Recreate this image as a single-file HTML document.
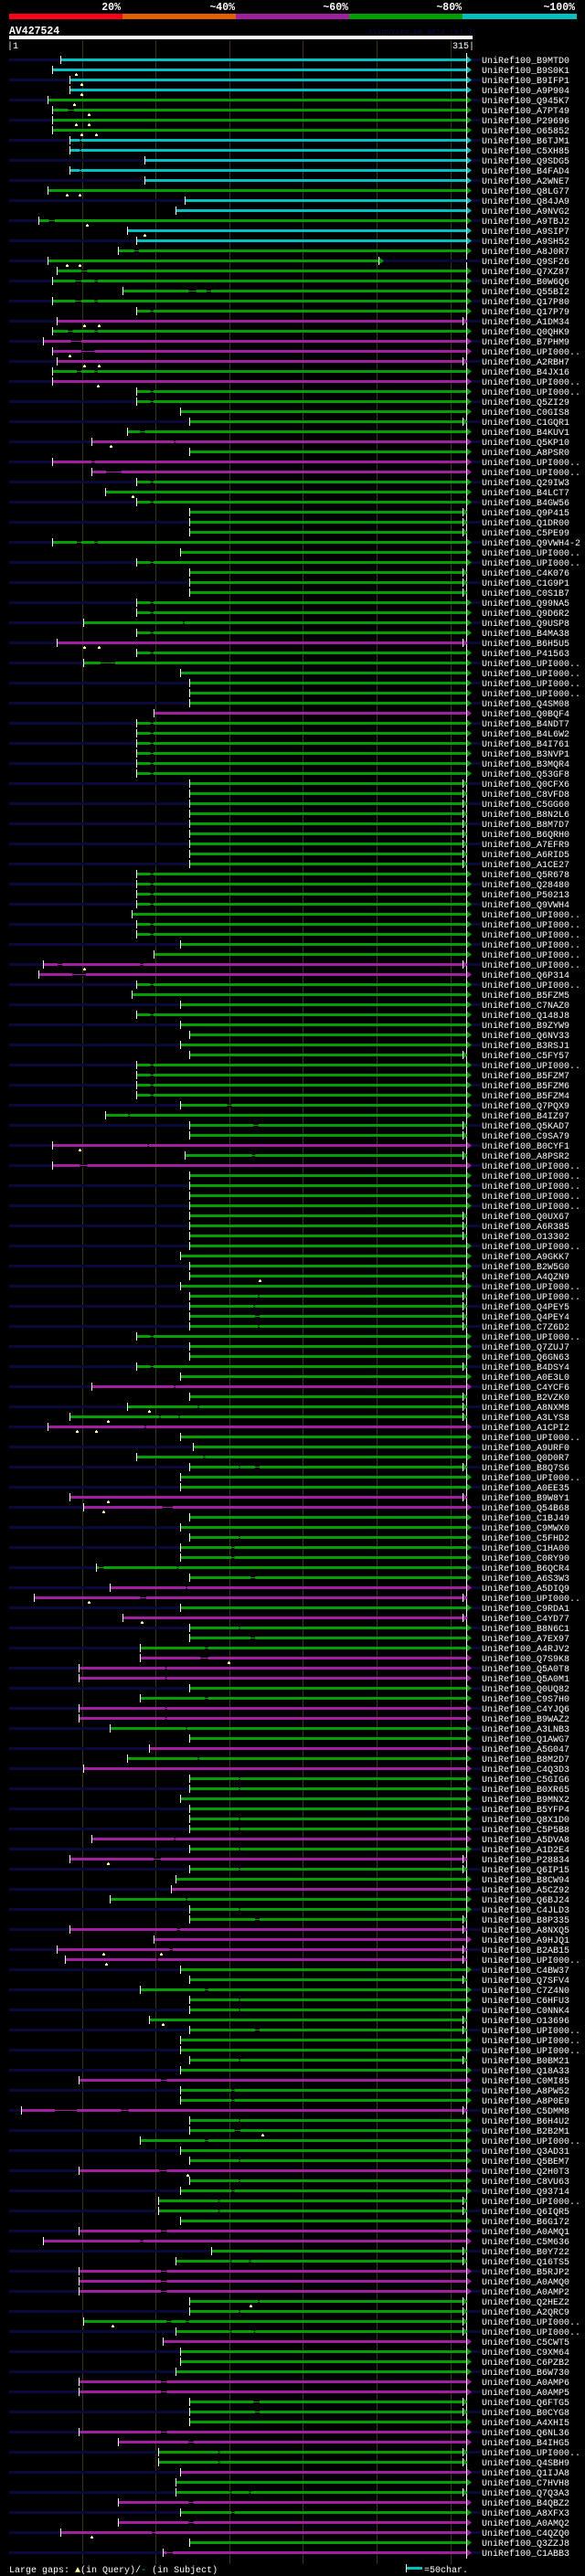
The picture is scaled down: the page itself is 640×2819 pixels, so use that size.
<!DOCTYPE html>
<html><head><meta charset="utf-8"><style>
html,body{margin:0;padding:0;background:#000;}
svg{display:block;}
text{font-family:"Liberation Mono",monospace;}
</style></head><body>
<svg id="chart" width="640" height="2819" viewBox="0 0 640 2819" xmlns="http://www.w3.org/2000/svg">
<rect x="0" y="0" width="640" height="2819" fill="#000"/>
<g>
<rect x="10" y="15" width="124" height="6" fill="#ff0018"/>
<rect x="134" y="15" width="124" height="6" fill="#e06000"/>
<rect x="258" y="15" width="124" height="6" fill="#a020a0"/>
<rect x="382" y="15" width="124" height="6" fill="#00a000"/>
<rect x="506" y="15" width="125" height="6" fill="#00c0c0"/>
<text x="132" y="11" fill="#fff" font-size="11.5" font-weight="bold" text-anchor="end">20%</text>
<text x="257" y="11" fill="#fff" font-size="11.5" font-weight="bold" text-anchor="end">~40%</text>
<text x="381" y="11" fill="#fff" font-size="11.5" font-weight="bold" text-anchor="end">~60%</text>
<text x="505" y="11" fill="#fff" font-size="11.5" font-weight="bold" text-anchor="end">~80%</text>
<text x="629" y="11" fill="#fff" font-size="11.5" font-weight="bold" text-anchor="end">~100%</text>
</g>
<text x="10" y="37" fill="#fff" font-size="11.5" font-weight="bold">AV427524</text>
<text x="517" y="37" fill="#0a0a44" font-size="8.3" text-anchor="end">AlignView.pm Beta rel.7</text>
<rect x="10" y="39" width="507" height="4" fill="#fff"/>
<text x="8" y="53" fill="#fff" font-size="10">|1</text>
<text x="519" y="53" fill="#fff" font-size="10" text-anchor="end">315|</text>
<g id="grid"></g>
<g id="rows"></g>
<g>
<text x="10" y="2815" fill="#fff" font-size="10">Large gaps: <tspan fill="#ffff80">▲</tspan>(in Query)/<tspan fill="#00c0c0">-</tspan> (in Subject)</text>
<rect x="445" y="2809" width="17" height="3" fill="#00c0c0"/>
<rect x="444" y="2806" width="1" height="9" fill="#fff"/>
<text x="464" y="2815" fill="#fff" font-size="10">=50char.</text>
</g>
</svg>
<script>
const names=["B9MTD0","B9S0K1","B9IFP1","A9P904","Q945K7","A7PT49","P29696","O65852","B6TJM1","C5XH85",
"Q9SDG5","B4FAD4","A2WNE7","Q8LG77","Q84JA9","A9NVG2","A9TBJ2","A9SIP7","A9SH52","A8J0R7",
"Q9SF26","Q7XZ87","B0W6Q6","Q55BI2","Q17P80","Q17P79","A1DM34","Q0QHK9","B7PHM9","UPI000..",
"A2RBH7","B4JX16","UPI000..","UPI000..","Q5ZI29","C0GIS8","C1GQR1","B4KUV1","Q5KP10","A8PSR0",
"UPI000..","UPI000..","Q29IW3","B4LCT7","B4GW56","Q9P415","Q1DR00","C5PE99","Q9VWH4-2","UPI000..",
"UPI000..","C4K076","C1G9P1","C0S1B7","Q99NA5","Q9D6R2","Q9USP8","B4MA38","B6H5U5","P41563",
"UPI000..","UPI000..","UPI000..","UPI000..","Q4SM08","Q0BQF4","B4NDT7","B4L6W2","B4I761","B3NVP1",
"B3MQR4","Q53GF8","Q0CFX6","C8VFD8","C5GG60","B8N2L6","B8M7D7","B6QRH0","A7EFR9","A6RID5",
"A1CE27","Q5R678","Q28480","P50213","Q9VWH4","UPI000..","UPI000..","UPI000..","UPI000..","UPI000..",
"UPI000..","Q6P314","UPI000..","B5FZM5","C7NAZ0","Q148J8","B9ZYW9","Q6NV33","B3RSJ1","C5FY57",
"UPI000..","B5FZM7","B5FZM6","B5FZM4","Q7PQX9","B4IZ97","Q5KAD7","C9SA79","B0CYF1","A8PSR2",
"UPI000..","UPI000..","UPI000..","UPI000..","UPI000..","Q0UX67","A6R385","O13302","UPI000..","A9GKK7",
"B2W5G0","A4QZN9","UPI000..","UPI000..","Q4PEY5","Q4PEY4","C7Z6D2","UPI000..","Q7ZUJ7","Q6GN63",
"B4DSY4","A0E3L0","C4YCF6","B2VZK0","A8NXM8","A3LYS8","A1CPI2","UPI000..","A9URF0","Q0D0R7",
"B8Q7S6","UPI000..","A0EE35","B9W8Y1","Q54B68","C1BJ49","C9MWX0","C5FHD2","C1HA00","C0RY90",
"B6QCR4","A6S3W3","A5DIQ9","UPI000..","C9RDA1","C4YD77","B8N6C1","A7EX97","A4RJV2","Q7S9K8",
"Q5A0T8","Q5A0M1","Q0UQ82","C9S7H0","C4YJQ6","B9WAZ2","A3LNB3","Q1AWG7","A5G047","B8M2D7",
"C4Q3D3","C5GIG6","B0XR65","B9MNX2","B5YFP4","Q8X1D0","C5P5B8","A5DVA8","A1D2E4","P28834",
"Q6IP15","B8CW94","A5CZ92","Q6BJ24","C4JLD3","B8P335","A8NXQ5","A9HJQ1","B2AB15","UPI000..",
"C4BW37","Q7SFV4","C7Z4N0","C6HFU3","C0NNK4","O13696","UPI000..","UPI000..","UPI000..","B0BM21",
"Q18A33","C0MI85","A8PW52","A8P0E9","C5DMM8","B6H4U2","B2B2M1","UPI000..","Q3AD31","Q5BEM7",
"Q2H0T3","C8VU63","Q93714","UPI000..","Q6IQR5","B6G172","A0AMQ1","C5M636","B0Y722","Q16TS5",
"B5RJP2","A0AMQ0","A0AMP2","Q2HEZ2","A2QRC9","UPI000..","UPI000..","C5CWT5","C9XM64","C6PZB2",
"B6W730","A0AMP6","A0AMP5","Q6FTG5","B0CYG8","A4XHI5","Q6NL36","B4IHG5","UPI000..","Q4SBH9",
"Q1IJA8","C7HVH8","Q7Q3A3","B4QBZ2","A8XFX3","A0AMQ2","C4QZQ0","Q3ZZJ8","C1ABB3"];
const starts=[36,30,42,42,27,30,30,30,42,42, 93,42,93,27,120,114,21,81,87,75, 27,33,30,78,30,87,33,30,24,30,
33,30,30,87,87,117,123,81,57,123, 30,57,87,66,87,123,123,123,30,117, 87,123,123,123,87,87,51,87,33,87,
51,117,123,123,123,99,87,87,87,87, 87,87,123,123,123,123,123,123,123,123, 123,87,87,87,87,84,87,87,117,99,
24,21,87,84,117,87,117,123,117,123, 87,87,87,87,117,66,123,123,30,120, 30,123,123,123,123,123,123,123,123,117,
123,123,117,123,123,123,123,87,123,123, 87,117,57,123,81,42,27,117,126,87, 123,117,117,42,51,123,117,123,117,117,
60,123,69,18,117,78,123,123,90,90, 48,48,123,90,48,48,69,123,96,81, 51,123,123,117,123,123,123,57,123,42,
123,114,111,69,123,123,42,99,33,39, 117,123,90,123,123,96,123,117,117,123, 117,48,117,117,9,123,123,90,117,123,
48,123,117,102,102,117,48,24,138,114, 48,48,48,123,123,51,114,105,117,117, 114,48,48,123,123,123,48,75,102,102,
117,114,114,75,117,75,36,123,105];
const ends=[311,311,311,311,311,311,311,311,311,311, 311,311,311,311,311,311,311,311,311,311,
252,311,311,311,311,311,309,311,311,311, 309,311,311,311,311,311,309,311,311,311,
311,311,311,311,311,309,309,309,311,311, 311,309,309,309,311,311,311,311,309,311,
311,311,311,311,311,311,311,311,311,311, 311,311,309,309,309,309,309,309,309,309,
309,311,311,311,311,311,311,311,311,311, 309,311,311,311,311,311,311,311,311,309,
311,311,311,311,311,311,309,309,311,309, 311,311,311,311,311,309,309,309,311,311,
311,309,311,309,309,309,309,311,311,311, 309,311,311,309,309,309,311,311,311,311,
309,311,311,309,311,311,311,311,311,311, 311,311,311,309,311,309,311,311,311,311,
311,311,311,311,311,311,311,311,311,311, 311,311,311,311,311,311,311,311,311,309,
309,311,311,311,311,309,309,311,309,309, 311,309,311,311,311,309,309,311,311,309,
311,311,311,311,309,311,311,311,311,311, 311,311,311,309,309,311,311,311,309,309,
311,311,311,309,309,309,309,311,311,311, 311,311,311,309,309,311,311,311,309,309,
311,311,309,311,311,311,311,311,311];
const identity="ccccggggcc"+"cccgccgccg"+"ggggggmgmm"+"mgmgggggmg"+"mmgggggggg"+"ggggggggmg"+"gggggmgggg"+"gggggggggg"+"gggggggggg"+"mmgggggggg"+
"ggggggggmg"+"mggggggggg"+"gggggggggg"+"ggmgggmggg"+"gggmmggggg"+"ggmmgmgggm"+"mmggmmggmg"+"mggggggmgm"+"ggmgggmmmm"+"gggggggggg"+
"gmggmggggg"+"mgggggmmgg"+"mmmggggmgg"+"gmmgggmmgg"+"mggmgmmgm";
const gapList=[[6,41,45],[9,49,50],[10,49,50],[12,49,50],[17,28,32],[20,86,89],[22,50,54],[23,46,50],[23,59,61],[24,123,128],[24,135,138],[25,46,50],[25,59,61],[26,97,99],[28,41,44],[28,59,61],[29,43,50],[30,50,59],[32,47,50],[32,59,61],[34,97,99],[35,97,99],[38,90,93],[39,113,114],[41,57,59],[42,67,77],[43,97,99],[45,97,99],[49,47,50],[49,59,61],[51,97,99],[55,97,99],[56,97,99],[57,119,120],[58,97,99],[60,97,99],[61,63,73],
[67,97,99],[68,97,99],[69,97,99],[70,97,99],[71,97,99],[72,97,99],[82,97,99],[83,97,99],[84,97,99],[85,97,99],[87,97,99],[88,97,99],
[91,34,37],[91,90,92],[92,44,53],[93,97,99],[96,97,99],[101,97,99],[102,97,99],[103,97,99],[104,97,99],[105,149,152],[106,82,83],[107,167,170],[109,95,96],[110,166,168],[111,49,54],[124,170,171],[125,167,168],[126,168,171],[127,170,171],[128,97,99],[131,97,99],[133,113,114],[135,129,130],[136,103,104],[136,116,117],[137,93,94],[140,133,134],[141,157,158],[141,168,171],[145,105,112],[148,157,158],[149,152,154],[150,152,154],[151,62,65],[151,115,116],[152,165,168],[153,121,122],[154,90,94],[157,157,158],[158,165,168],[159,134,136],[160,131,136],[161,107,108],[162,107,108],[164,134,136],[165,107,108],[166,107,108],[167,121,122],[170,129,130],[172,157,158],[173,157,158],[176,157,158],[177,157,158],[178,113,114],[179,157,158],[180,99,104],[181,157,158],[184,121,122],[185,157,158],[186,168,171],[187,115,117],[189,110,112],[190,101,102],[193,134,136],[194,157,158],[195,157,158],[197,168,171],[200,157,158],[202,104,108],[203,152,154],[204,152,154],[205,32,47],[205,77,82],[206,157,158],[207,154,158],[208,134,136],[210,157,158],[211,103,108],[212,157,158],[213,152,154],[214,143,144],[215,143,144],[217,104,108],[218,90,92],[220,151,152],[220,164,165],[221,104,108],[222,104,108],[223,104,108],[224,170,171],[225,157,158],[226,108,111],[226,121,123],[227,151,152],[227,167,168],[232,104,108],[233,104,108],[234,167,171],[235,168,171],[237,104,108],[238,123,126],[239,143,144],[240,143,144],[243,151,152],[243,164,165],[244,123,126],[245,152,154],[246,123,126],[247,98,100],[249,108,112]];
const marks=[[2,46],[3,50],[4,50],[5,45],[6,55],[7,46],[7,55],[8,50],[8,60],[14,40],[14,49],[17,54],[18,93],[21,40],[21,49],[27,52],[27,62],[30,42],[31,52],[31,62],[33,61],[39,70],[44,85],[59,52],[59,62],[91,52],[109,49],[122,171],[135,96],[136,68],[137,47],[137,60],[144,68],[145,65],[154,55],[156,91],[160,150],[180,68],[189,65],[189,104],[190,67],[196,105],[207,173],[211,122],[224,165],[226,71],[247,57]];
const gridTicks=[50,100,150,200,250,300];

const NS="http://www.w3.org/2000/svg";
const colorMap={c:"#00c0c0",g:"#00a000",m:"#a020a0"};
function xScale(q){return 10+(q-1)*1.6115;}
function yScale(i){return 65.3+i*11;}
function mk(tag,attrs,parent){const e=document.createElementNS(NS,tag);for(const k in attrs)e.setAttribute(k,attrs[k]);parent.appendChild(e);return e;}
const grid=document.getElementById('grid');
gridTicks.forEach(t=>{
  const l=mk('rect',{x:Math.round(xScale(t+0.5)),y:44,width:1,height:2762,fill:'#3a3400'},grid);
  
  
});
const rowsG=document.getElementById('rows');
const endLine=mk('rect',{x:510,y:58,width:1,height:2742,fill:'#fff'},rowsG);


names.forEach((nm,i)=>{
  const y=Math.round(yScale(i));
  const col=colorMap[identity[i]];
  const g=mk('g',{},rowsG);
  
  
  const xs=Math.round(xScale(starts[i])), xe=Math.round(xScale(ends[i]));
  if(i%2===0){
    mk('rect',{x:10,y:y-1,width:xs-10,height:3,fill:'#0a0a38'},g);
    mk('rect',{x:xe+5,y:y-1,width:526-xe-5,height:3,fill:'#0a0a38'},g);
  }
  const bar=mk('rect',{x:xs,y:y-1,width:xe-xs,height:3,fill:col},g);
  
  
  gapList.filter(gp=>gp[0]===i+1).forEach(gp=>{
    const a=xScale(gp[1]),b=xScale(gp[2]);
    mk('rect',{x:a,y:y-1,width:b-a,height:3,fill:'#000'},g);
    const gl=mk('rect',{x:a,y:y,width:b-a,height:1,fill:col},g);
    
    
  });
  mk('rect',{x:xs,y:y-4,width:1,height:9,fill:'#fff'},g);
  const ar=mk('polygon',{points:`${xe},${y-4} ${xe+6},${y+0.5} ${xe},${y+5}`,fill:col},g);
  
  
  mk('rect',{x:xe,y:y-4,width:1,height:9,fill:'#fff'},g);
  marks.filter(m=>m[0]===i+1).forEach(m=>{
    const mx=Math.round(xScale(m[1]));
    const mm=mk('path',{d:`M${mx-1},${y+7} h3 v-2 h-1 v-1 h-1 v1 h-1 z`,fill:'#ffff80'},g);
    
    
  });
  const t=mk('text',{x:527,y:y+4,fill:'#fff','font-size':'10'},g);
  t.textContent='UniRef100_'+nm;
  
  
});
</script>
</body></html>
